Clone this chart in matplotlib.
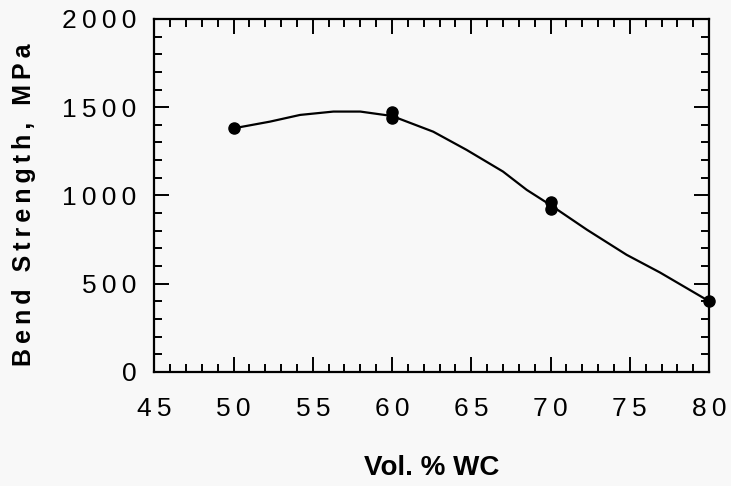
import matplotlib
matplotlib.use("Agg")
import matplotlib.pyplot as plt
from matplotlib.ticker import MultipleLocator, FuncFormatter

plt.rcParams['font.family'] = ['Liberation Sans', 'DejaVu Sans']

# measured points (vol. % WC, bend strength MPa)
pts_x = [50, 60, 60, 70, 70, 80]
pts_y = [1380, 1440, 1470, 960, 925, 400]

# hand-drawn trend curve
curve_x = [50, 52.3, 54.2, 56.3, 58, 60, 62.6, 64.7, 67, 68.5, 70, 72.3, 74.8, 76.9, 80]
curve_y = [1380, 1418, 1456, 1475, 1475, 1450, 1361, 1258, 1135, 1031, 945, 805, 663, 563, 400]

x_ticks = [45, 50, 55, 60, 65, 70, 75, 80]
y_ticks = [0, 500, 1000, 1500, 2000]


def spaced(s, gap='\u2009'):
    # the old typewriter-style labels are letter spaced
    return gap.join(s)


bg = '#f8f8f8'
fig = plt.figure(figsize=(7.31, 4.86), dpi=100, facecolor=bg)
ax = fig.add_axes([0.211, 0.235, 0.759, 0.726], facecolor=bg)

ax.plot(curve_x, curve_y, color='black', lw=1.6, zorder=2)
ax.plot(pts_x, pts_y, 'o', color='black', ms=8, zorder=3, clip_on=False)

ax.set_xlim(45, 80)
ax.set_ylim(0, 2000)
ax.set_xticks(x_ticks)
ax.set_yticks(y_ticks)
ax.xaxis.set_minor_locator(MultipleLocator(1))
ax.yaxis.set_minor_locator(MultipleLocator(100))
fmt = FuncFormatter(lambda v, p: spaced('%d' % v))
ax.xaxis.set_major_formatter(fmt)
ax.yaxis.set_major_formatter(fmt)
ax.tick_params(which='both', direction='in', top=True, right=True, width=1.4, colors='black')
ax.tick_params(which='major', length=11, labelsize=19)
ax.tick_params(which='minor', length=6)
ax.tick_params(axis='x', which='major', pad=18)
ax.tick_params(axis='y', which='major', pad=13)
for sp in ax.spines.values():
    sp.set_linewidth(1.6)

ax.set_xlabel('Vol. % WC', fontsize=20, fontweight='bold')
ax.set_ylabel(spaced('Bend Strength, MPa'), fontsize=18, fontweight='bold')
ax.xaxis.set_label_coords(0.5, -0.235)
ax.yaxis.set_label_coords(-0.214, 0.473)

plt.savefig('out.png', dpi=100, facecolor=bg)
